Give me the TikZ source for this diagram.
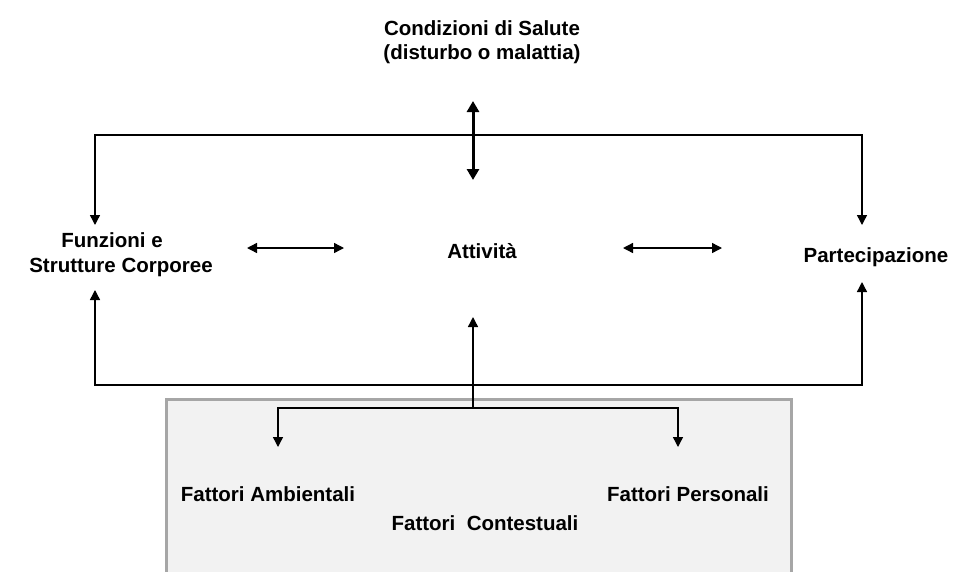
\documentclass[tikz,border=0pt]{standalone}
\usepackage{fontspec}
\setmainfont{Liberation Sans}
\usetikzlibrary{arrows.meta}
\tikzset{
  lbl/.style={font=\bfseries\fontsize{20.5}{24.5}\selectfont, inner sep=0pt, anchor=base, align=center},
  conn/.style={line width=1.4pt, -{Triangle[length=10pt,width=10pt]}},
  dconn/.style={line width=1.4pt, {Triangle[length=10pt,width=10pt]}-{Triangle[length=10pt,width=10pt]}},
  thick2/.style={line width=3pt, {Triangle[length=11pt,width=12pt]}-{Triangle[length=11pt,width=12pt]}},
  ctxbox/.style={draw=black!35, fill=black!5, line width=3pt}
}
\begin{document}
\begin{tikzpicture}[x=1pt,y=-1pt]
\useasboundingbox (0,0) rectangle (954,571);
% contextual box
\draw[ctxbox] (166,399.5) rectangle (791,590);
% texts
\node[lbl] (salute) at (482,35) {Condizioni di Salute};
\node[lbl] (salute2) at (482,59) {(disturbo o malattia)};
\node[lbl] (funz) at (112,247) {Funzioni e};
\node[lbl] (funz2) at (121,272) {Strutture Corporee};
\node[lbl] (att) at (482,258) {Attività};
\node[lbl] (part) at (876,262) {Partecipazione};
\node[lbl] (amb) at (268,501) {Fattori Ambientali};
\node[lbl] (pers) at (688,501) {Fattori Personali};
\node[lbl] (cont) at (485,530) {Fattori\ \ Contestuali};
% coordinates
\coordinate (tl) at (95,135);
\coordinate (tr) at (862,135);
\coordinate (fdown) at (95,225);
\coordinate (pdown) at (862,225);
\coordinate (bl) at (95,385);
\coordinate (br) at (862,385);
\coordinate (fup) at (95,290);
\coordinate (pup) at (862,282);
\coordinate (htop) at (473,101);
\coordinate (hbot) at (473,180);
\coordinate (a1l) at (247,248);
\coordinate (a1r) at (344,248);
\coordinate (a2l) at (623,248);
\coordinate (a2r) at (722,248);
\coordinate (cbot) at (473,408);
\coordinate (ctop) at (473,317);
\coordinate (il) at (278,408);
\coordinate (ir) at (678,408);
\coordinate (ambtip) at (278,447);
\coordinate (perstip) at (678,447);
% connectors
\draw[conn] (tr) -- (tl) -- (fdown);
\draw[conn] (tl) -- (tr) -- (pdown);
\draw[thick2] (htop) -- (hbot);
\draw[dconn] (a1l) -- (a1r);
\draw[dconn] (a2l) -- (a2r);
\draw[conn] (br) -- (bl) -- (fup);
\draw[conn] (bl) -- (br) -- (pup);
\draw[conn] (cbot) -- (ctop);
\draw[conn] (ir) -- (il) -- (ambtip);
\draw[conn] (il) -- (ir) -- (perstip);
\end{tikzpicture}
\end{document}
